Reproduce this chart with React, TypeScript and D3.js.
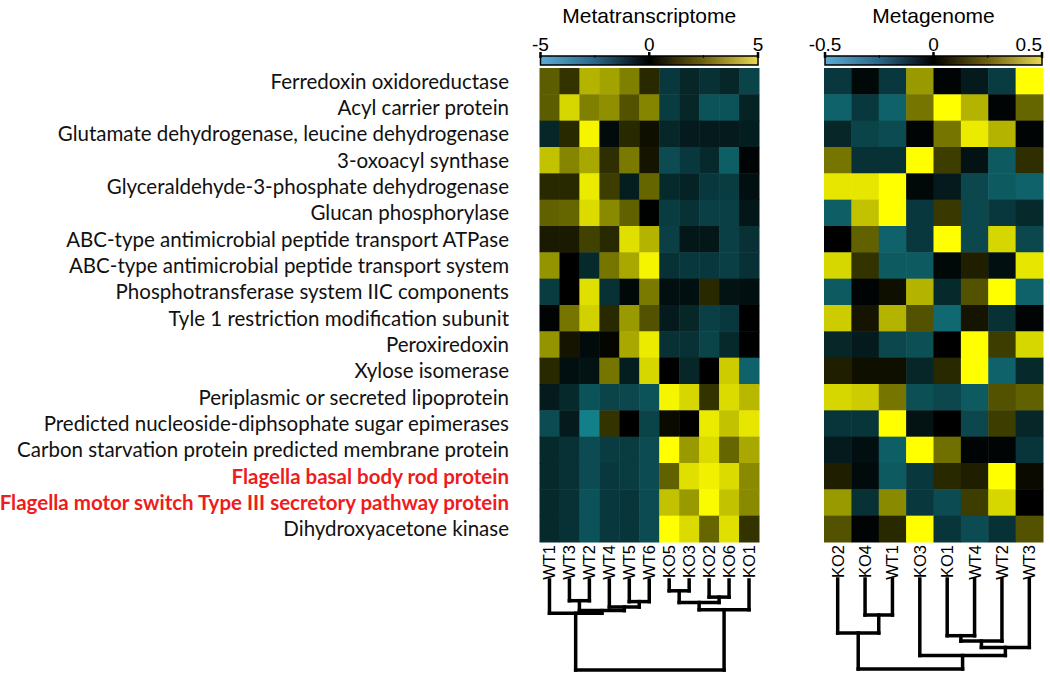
import React, { useEffect, useRef } from 'react';
import * as d3 from 'd3';

const W = 1050;
const H = 681;

// row labels (same for both heatmaps)
const genes = [
  'Ferredoxin oxidoreductase',
  'Acyl carrier protein',
  'Glutamate dehydrogenase, leucine dehydrogenase',
  '3-oxoacyl synthase',
  'Glyceraldehyde-3-phosphate dehydrogenase',
  'Glucan phosphorylase',
  'ABC-type antimicrobial peptide transport ATPase',
  'ABC-type antimicrobial peptide transport system',
  'Phosphotransferase system IIC components',
  'Tyle 1 restriction modification subunit',
  'Peroxiredoxin',
  'Xylose isomerase',
  'Periplasmic or secreted lipoprotein',
  'Predicted nucleoside-diphsophate sugar epimerases',
  'Carbon starvation protein predicted membrane protein',
  'Flagella basal body rod protein',
  'Flagella motor switch Type III secretory pathway protein',
  'Dihydroxyacetone kinase',
];
const highlighted = ['Flagella basal body rod protein', 'Flagella motor switch Type III secretory pathway protein'];

// Metatranscriptome
const mtSamples = ['WT1', 'WT3', 'WT2', 'WT4', 'WT5', 'WT6', 'KO5', 'KO3', 'KO2', 'KO6', 'KO1'];
const mtValues = [
  [1.8, 1.0, 3.5, 3.2, 2.5, 0.8, -1.5, -1.0, -1.3, -1.0, -1.8],
  [1.8, 4.2, 2.5, 2.8, 1.6, 2.6, -1.6, -1.0, -2.2, -2.2, -0.9],
  [-1.0, 0.8, 4.8, -0.3, 0.8, 0.3, -1.0, -0.7, -0.7, -0.7, -0.8],
  [3.8, 2.6, 3.3, 0.9, 2.4, 0.4, -2.0, -1.5, -1.1, -2.5, -0.1],
  [0.8, 0.8, 4.6, 1.2, -0.8, 2.0, -1.1, -0.9, -1.5, -1.6, -0.4],
  [1.9, 2.0, 4.3, 2.7, 1.9, -0.05, -1.6, -1.3, -1.7, -1.7, -0.6],
  [0.5, 0.5, 1.3, 0.8, 4.4, 3.5, -1.7, -0.6, -0.6, -1.7, -1.3],
  [2.9, 0.0, -1.1, 2.3, 3.3, 4.8, -1.3, -1.5, -1.5, -1.7, -1.3],
  [-1.6, 0.0, 4.4, -1.3, -0.2, 2.4, -0.4, -0.4, 0.8, -0.5, -0.4],
  [-0.1, 2.3, 4.1, 0.8, 3.0, 1.6, -0.7, -1.0, -1.7, -1.5, 0.0],
  [2.9, 0.4, -0.3, 0.1, 3.3, 4.6, -1.3, -1.3, -1.8, -1.1, 0.0],
  [0.8, -0.4, -0.5, 2.3, -0.8, 4.2, 0.0, -1.0, 0.0, 4.0, -2.6],
  [-0.7, -1.1, -2.2, -1.8, -1.9, -2.2, 4.8, 4.2, 1.0, 4.3, 3.6],
  [-2.0, -0.7, -3.4, 1.0, 0.0, -1.8, 0.2, 0.0, 4.6, 3.8, 4.5],
  [-1.1, -1.3, -2.0, -1.6, -1.6, -2.0, 5.0, 3.0, 4.3, 2.0, 3.3],
  [-1.1, -1.3, -2.0, -1.5, -1.6, -2.0, 1.9, 4.4, 4.7, 4.3, 2.7],
  [-1.1, -1.3, -2.2, -1.5, -1.4, -2.0, 3.8, 3.0, 4.9, 3.8, 2.7],
  [-1.1, -1.3, -2.2, -1.5, -1.4, -2.0, 5.0, 4.3, 2.0, 4.4, 1.0],
];
const mtTicks = [-5, 0, 5];
const mtTree = {
  h: 1.0, children: [
    { h: 0.37, children: [
      { name: 'WT1' },
      { h: 0.34, children: [
        { h: 0.23, children: [{ name: 'WT3' }, { name: 'WT2' }] },
        { h: 0.30, children: [{ name: 'WT4' }, { h: 0.24, children: [{ name: 'WT5' }, { name: 'WT6' }] }] },
      ] },
    ] },
    { h: 0.33, children: [
      { h: 0.25, children: [
        { h: 0.12, children: [{ name: 'KO5' }, { name: 'KO3' }] },
        { h: 0.19, children: [{ name: 'KO2' }, { name: 'KO6' }] },
      ] },
      { name: 'KO1' },
    ] },
  ],
};

// Metagenome
const mgSamples = ['KO2', 'KO4', 'WT1', 'KO3', 'KO1', 'WT4', 'WT2', 'WT3'];
const mgValues = [
  [-0.15, -0.02, -0.15, 0.30, -0.01, -0.07, -0.16, 0.5],
  [-0.26, -0.15, -0.26, 0.23, 0.5, 0.35, -0.01, 0.2],
  [-0.10, -0.18, -0.20, -0.01, 0.23, 0.46, 0.35, -0.01],
  [0.23, -0.13, -0.13, 0.5, 0.12, -0.05, -0.24, 0.09],
  [0.45, 0.45, 0.5, -0.02, -0.07, -0.19, -0.24, -0.26],
  [-0.25, 0.38, 0.5, -0.15, 0.11, -0.19, -0.15, -0.11],
  [0.0, 0.19, -0.26, -0.15, 0.5, -0.19, 0.42, -0.19],
  [0.42, 0.10, -0.24, -0.24, -0.02, 0.06, -0.04, 0.45],
  [-0.24, -0.01, 0.03, 0.35, -0.11, 0.16, 0.5, -0.26],
  [0.40, 0.04, 0.35, 0.16, -0.28, 0.04, -0.13, -0.01],
  [-0.10, -0.07, -0.19, -0.21, 0.0, 0.5, 0.12, 0.42],
  [0.06, 0.03, 0.03, -0.10, 0.08, 0.5, -0.26, -0.11],
  [0.42, 0.40, 0.23, -0.21, -0.19, -0.24, 0.16, 0.19],
  [-0.14, -0.14, 0.5, -0.05, 0.0, -0.19, 0.12, -0.10],
  [-0.07, -0.04, -0.25, 0.5, 0.22, -0.01, -0.01, -0.14],
  [0.06, -0.03, -0.24, -0.15, 0.08, 0.06, 0.5, 0.02],
  [0.30, -0.13, 0.27, -0.15, -0.20, 0.12, 0.42, 0.0],
  [0.16, -0.01, 0.08, 0.5, -0.14, -0.20, -0.13, 0.16],
];
const mgTicks = [-0.5, 0, 0.5];
const mgTree = {
  h: 1.0, children: [
    { h: 0.60, children: [
      { name: 'KO2' },
      { h: 0.40, children: [{ name: 'KO4' }, { name: 'WT1' }] },
    ] },
    { h: 0.85, children: [
      { name: 'KO3' },
      { h: 0.76, children: [
        { h: 0.69, children: [
          { h: 0.63, children: [{ name: 'KO1' }, { name: 'WT4' }] },
          { name: 'WT2' },
        ] },
        { name: 'WT3' },
      ] },
    ] },
  ],
};

function App() {
  const svgRef = useRef(null);

  useEffect(() => {
    const svg = d3.select(svgRef.current);
    svg.selectAll('*').remove();

    const top = 68;
    const bottom = 542;
    const y = d3.scaleBand().domain(genes).range([top, bottom]);

    // gradient for colour bars
    const defs = svg.append('defs');
    const grad = defs.append('linearGradient').attr('id', 'cbar');
    [['0%', '#5cacd4'], ['25%', '#2a6688'], ['50%', '#000000'], ['75%', '#6e6010'], ['100%', '#ead94e']]
      .forEach(([o, c]) => grad.append('stop').attr('offset', o).attr('stop-color', c));

    const panels = [
      { title: 'Metatranscriptome', samples: mtSamples, values: mtValues, ticks: mtTicks, tree: mtTree, x0: 539.5, x1: 759, leafY: 580, rootY: 670 },
      { title: 'Metagenome', samples: mgSamples, values: mgValues, ticks: mgTicks, tree: mgTree, x0: 824, x1: 1043, leafY: 579, rootY: 669 },
    ];

    panels.forEach(p => {
      const g = svg.append('g');
      const x = d3.scaleBand().domain(p.samples).range([p.x0, p.x1]);
      const max = p.ticks[2];
      const color = d3.scaleLinear()
        .domain([-max, 0, max])
        .range(['#1cbcca', '#000000', '#ffff00'])
        .clamp(true);

      // title
      g.append('text')
        .attr('x', (p.x0 + p.x1) / 2)
        .attr('y', 23)
        .attr('text-anchor', 'middle')
        .attr('font-family', 'Liberation Sans, Arial, sans-serif')
        .attr('font-size', 21)
        .text(p.title);

      // colour bar
      const cx = d3.scaleLinear().domain([-max, max]).range([p.x0 + 1, p.x1 - 1]);
      g.append('rect')
        .attr('x', cx(-max)).attr('y', 56)
        .attr('width', cx(max) - cx(-max)).attr('height', 9)
        .attr('fill', 'url(#cbar)')
        .attr('stroke', '#000').attr('stroke-width', 1.5);
      g.selectAll('line.tick')
        .data(d3.range(-max, max + max / 4, max / 2))
        .enter().append('line')
        .attr('x1', d => cx(d)).attr('x2', d => cx(d))
        .attr('y1', d => (p.ticks.includes(d) ? 52 : 55)).attr('y2', 58)
        .attr('stroke', '#000').attr('stroke-width', d => (p.ticks.includes(d) ? 2.5 : 1));
      g.selectAll('text.tk')
        .data(p.ticks)
        .enter().append('text')
        .attr('x', d => Math.min(cx(d), W - 2))
        .attr('y', 51)
        .attr('text-anchor', (d, i) => (i === 2 && cx(d) + 15 > W ? 'end' : 'middle'))
        .attr('font-family', 'Liberation Sans, Arial, sans-serif')
        .attr('font-size', 19)
        .text(d => String(d));

      // cells
      p.values.forEach((row, ri) => {
        g.selectAll(null)
          .data(row)
          .enter().append('rect')
          .attr('x', (d, i) => x(p.samples[i]))
          .attr('y', y(genes[ri]))
          .attr('width', x.bandwidth() + 0.5)
          .attr('height', y.bandwidth() + 0.5)
          .attr('fill', d => color(d));
      });

      // column labels
      g.selectAll('text.col')
        .data(p.samples)
        .enter().append('text')
        .attr('transform', d => `translate(${x(d) + x.bandwidth() / 2 + 6},${bottom + 3}) rotate(-90)`)
        .attr('text-anchor', 'end')
        .attr('font-family', 'Liberation Sans, Arial, sans-serif')
        .attr('font-size', 16.5)
        .text(d => d);

      // dendrogram
      const root = d3.hierarchy(p.tree);
      const hy = d3.scaleLinear().domain([0, 1]).range([p.leafY, p.rootY]);
      root.eachAfter(n => {
        if (!n.children) {
          n.px = x(n.data.name) + x.bandwidth() / 2;
          n.py = hy(0);
        } else {
          n.px = d3.mean(n.children, c => c.px);
          n.py = hy(n.data.h);
        }
      });
      const segs = [];
      root.each(n => {
        if (n.children) {
          segs.push([d3.min(n.children, c => c.px), n.py, d3.max(n.children, c => c.px), n.py]);
          n.children.forEach(c => segs.push([c.px, c.py, c.px, n.py]));
        }
      });
      g.selectAll('line.dend')
        .data(segs)
        .enter().append('line')
        .attr('x1', d => d[0]).attr('y1', d => d[1])
        .attr('x2', d => d[2]).attr('y2', d => d[3])
        .attr('stroke', '#000')
        .attr('stroke-width', 3.5)
        .attr('stroke-linecap', 'square');
    });

    // row labels
    svg.append('g')
      .selectAll('text')
      .data(genes)
      .enter().append('text')
      .attr('x', 509)
      .attr('y', d => y(d) + y.bandwidth() / 2)
      .attr('dy', '0.36em')
      .attr('text-anchor', 'end')
      .attr('font-family', 'Lato, sans-serif')
      .attr('font-size', 20.5)
      .attr('font-weight', d => (highlighted.includes(d) ? 'bold' : 'normal'))
      .attr('fill', d => (highlighted.includes(d) ? '#ee1c1c' : '#111'))
      .text(d => d);
  }, []);

  return (
    <svg ref={svgRef} width={W} height={H} style={{ position: 'absolute', left: 0, top: 0, background: '#fff' }}></svg>
  );
}

export default App;
